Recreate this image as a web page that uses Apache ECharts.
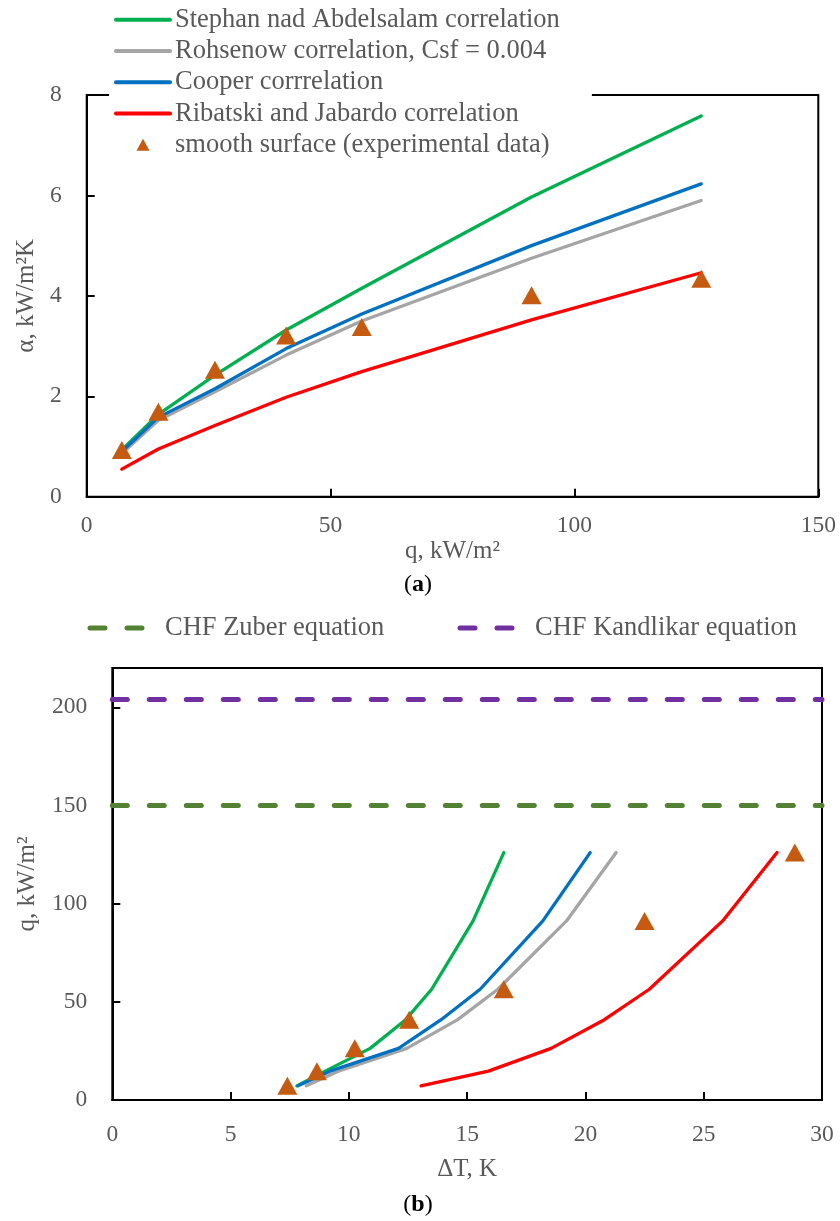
<!DOCTYPE html>
<html>
<head>
<meta charset="utf-8">
<script src="https://cdn.jsdelivr.net/npm/echarts@6/dist/echarts.min.js"></script>
<style>
html,body{margin:0;padding:0;background:#fff;}
#main{width:840px;height:1221px;}
</style>
</head>
<body>
<div id="main"></div>
<script>
// ---------- data ----------
const qFlux = [7.2, 14.7, 26.3, 40.9, 56.4, 91.2, 126];

// (a) heat transfer coefficient, kW/m2K
const alphaStephan  = [0.93, 1.64, 2.42, 3.32, 4.15, 5.97, 7.58];
const alphaRohsenow = [0.86, 1.52, 2.09, 2.82, 3.50, 4.75, 5.90];
const alphaCooper   = [0.90, 1.58, 2.15, 2.95, 3.64, 5.00, 6.23];
const alphaRibatski = [0.55, 0.95, 1.42, 1.98, 2.49, 3.52, 4.46];
const alphaExp      = [0.93, 1.69, 2.53, 3.21, 3.38, 4.01, 4.34];

// (b) wall superheat, K
const dtStephan  = [7.8, 9.0, 10.9, 12.4, 13.5, 15.25, 16.55];
const dtRohsenow = [8.2, 9.55, 12.45, 14.6, 16.3, 19.2, 21.3];
const dtCooper   = [7.85, 9.2, 12.1, 13.9, 15.55, 18.2, 20.2];
const dtRibatski = [13.05, 15.9, 18.55, 20.8, 22.7, 25.8, 28.1];
const dtExp      = [7.4, 8.65, 10.25, 12.55, 16.55, 22.5, 28.85];

const chfZuber = 150;
const chfKandlikar = 204;
const dtRange = [0, 30];

const names = ['Stephan nad Abdelsalam correlation', 'Rohsenow correlation, Csf = 0.004',
  'Cooper corrrelation', 'Ribatski and Jabardo correlation', 'smooth surface (experimental data)'];
const chfNames = ['CHF Zuber equation', 'CHF Kandlikar equation'];

// ---------- styling ----------
const FONT = "'Liberation Serif', 'Times New Roman', serif";
const TXT = '#595959';
const colors = ['#00B050', '#A5A5A5', '#0070C0', '#FF0000'];
const chfColors = ['#548235', '#7030A0'];
const markerColor = '#C55A11';

const zip = (a, b) => a.map((v, i) => [v, b[i]]);

const axisCommon = {
  axisLine: { show: true, lineStyle: { color: '#000', width: 2 } },
  axisTick: { show: true, inside: true, length: 8, lineStyle: { color: '#000', width: 2 } },
  splitLine: { show: false },
  nameLocation: 'middle',
  nameTextStyle: { fontFamily: FONT, fontSize: 25, color: TXT },
};
const lbl = (margin) => ({ fontFamily: FONT, fontSize: 23.5, color: TXT, margin: margin });

const lineSeries = (name, data, color, xi) => ({
  name, type: 'line', xAxisIndex: xi, yAxisIndex: xi, data,
  showSymbol: false, symbol: 'none', smooth: false,
  lineStyle: { color, width: 3.3, cap: 'round', join: 'round' },
  itemStyle: { color }, z: 3
});

const alphaSets = [alphaStephan, alphaRohsenow, alphaCooper, alphaRibatski];
const dtSets = [dtStephan, dtRohsenow, dtCooper, dtRibatski];

const series = [];
alphaSets.forEach((a, i) => series.push(lineSeries(names[i], zip(qFlux, a), colors[i], 0)));
series.push({
  name: names[4], type: 'scatter', xAxisIndex: 0, yAxisIndex: 0,
  data: zip(qFlux, alphaExp), symbol: 'triangle', symbolSize: [20, 18],
  itemStyle: { color: markerColor, opacity: 1 }, z: 5
});
dtSets.forEach((d, i) => series.push(lineSeries(names[i], zip(d, qFlux), colors[i], 1)));
series.push({
  name: names[4], type: 'scatter', xAxisIndex: 1, yAxisIndex: 1,
  data: zip(dtExp, qFlux), symbol: 'triangle', symbolSize: [20, 18],
  itemStyle: { color: markerColor, opacity: 1 }, z: 5
});
[[chfNames[0], chfZuber, chfColors[0]], [chfNames[1], chfKandlikar, chfColors[1]]].forEach(([n, v, c]) => {
  series.push({
    name: n, type: 'line', xAxisIndex: 1, yAxisIndex: 1,
    data: dtRange.map(x => [x, v]), showSymbol: false, symbol: 'none',
    lineStyle: { color: c, width: 5, type: [15, 22], cap: 'round' },
    itemStyle: { color: c }, z: 2
  });
});

const hiddenDot = { opacity: 0, color: 'transparent', borderWidth: 0 };
const topLegendData = names.slice(0, 4).map(n => ({ name: n, itemStyle: hiddenDot }));
topLegendData.push({ name: names[4], icon: 'path://M6,0L12,11L0,11Z', itemStyle: { color: markerColor, opacity: 1 } });

const chfLegend = (name, left, color) => ({
  data: [{ name, itemStyle: hiddenDot }], left, top: 608, padding: 5,
  itemWidth: 70, itemHeight: 14, selectedMode: false,
  lineStyle: { color, width: 5, type: [15, 22], cap: 'round' },
  textStyle: { fontFamily: FONT, fontSize: 26.5, color: TXT, lineHeight: 30 }
});

const chart = echarts.init(document.getElementById('main'), null, { renderer: 'canvas' });
chart.setOption({
  backgroundColor: '#fff',
  animation: false,
  grid: [
    { left: 86.7, top: 95, width: 731.6, height: 401.7, show: true, borderColor: '#000', borderWidth: 2, backgroundColor: 'transparent' },
    { left: 112.3, top: 668, width: 709.7, height: 432, show: true, borderColor: '#000', borderWidth: 2, backgroundColor: 'transparent' }
  ],
  legend: [
    {
      data: topLegendData, orient: 'vertical', left: 109, top: 0,
      padding: [4, 32, 2, 5], itemGap: 0, itemWidth: 54, itemHeight: 12,
      symbolKeepAspect: true,
      backgroundColor: '#fff', selectedMode: false,
      lineStyle: { width: 4, cap: 'round' },
      textStyle: { fontFamily: FONT, fontSize: 26.5, color: TXT, lineHeight: 31.3 }
    },
    chfLegend(chfNames[0], 82.5, chfColors[0]),
    chfLegend(chfNames[1], 452.5, chfColors[1])
  ],
  xAxis: [
    Object.assign({}, axisCommon, {
      type: 'value', gridIndex: 0, min: 0, max: 150, interval: 50,
      name: 'q, kW/m²', nameGap: 34, axisLabel: lbl(17.5)
    }),
    Object.assign({}, axisCommon, {
      type: 'value', gridIndex: 1, min: 0, max: 30, interval: 5,
      name: 'ΔT, K', nameGap: 57, axisLabel: lbl(23)
    })
  ],
  yAxis: [
    Object.assign({}, axisCommon, {
      type: 'value', gridIndex: 0, min: 0, max: 8, interval: 2,
      name: 'α, kW/m²K', nameGap: 47, axisLabel: lbl(25)
    }),
    Object.assign({}, axisCommon, {
      type: 'value', gridIndex: 1, min: 0, max: 220, interval: 50,
      name: 'q, kW/m²', nameGap: 72,
      axisLabel: Object.assign(lbl(25), { formatter: v => (v % 50 === 0 ? String(v) : '') })
    })
  ],
  graphic: [
    { type: 'text', x: 418, y: 585, style: { text: '{n|(}{b|a}{n|)}', align: 'center', verticalAlign: 'middle',
      rich: { n: { fontFamily: FONT, fontSize: 24, fill: '#000' }, b: { fontFamily: FONT, fontSize: 24, fontWeight: 'bold', fill: '#000' } } } },
    { type: 'text', x: 418, y: 1205, style: { text: '{n|(}{b|b}{n|)}', align: 'center', verticalAlign: 'middle',
      rich: { n: { fontFamily: FONT, fontSize: 24, fill: '#000' }, b: { fontFamily: FONT, fontSize: 24, fontWeight: 'bold', fill: '#000' } } } }
  ],
  series
});
</script>
</body>
</html>
